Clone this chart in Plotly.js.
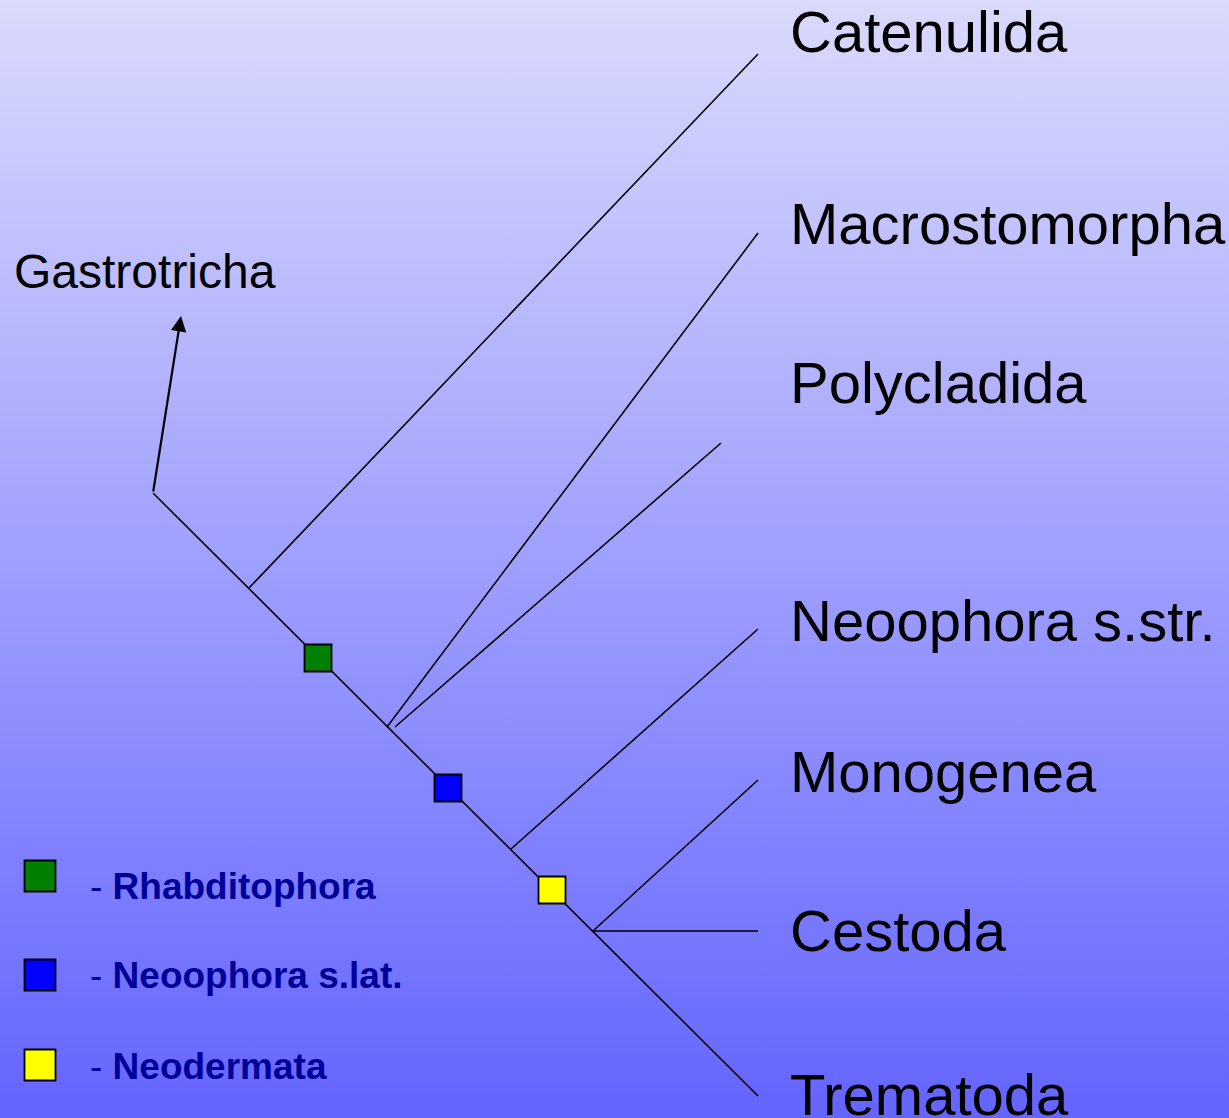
<!DOCTYPE html>
<html>
<head>
<meta charset="utf-8">
<script src="https://cdn.plot.ly/plotly-3.0.1.min.js"></script>
<style>
  html, body { margin: 0; padding: 0; }
  #chart {
    width: 1229px; height: 1118px;
    background: linear-gradient(to bottom, #dadafd 0%, #6464ff 100%);
  }
</style>
</head>
<body>
<div id="chart"></div>
<script>
// ---- Tree data (pixel-space coordinates of the diagram) ----
const rootX = 153, rootY = 493;                 // ingroup root
const outgroupName = 'Gastrotricha';
const outgroupTipX = 181, outgroupTipY = 316;   // arrow tip
const outgroupLabelX = 12, outgroupLabelY = 271;

const taxa   = ['Catenulida', 'Macrostomorpha', 'Polycladida', 'Neoophora s.str.', 'Monogenea', 'Cestoda', 'Trematoda'];
const nodeX  = [249, 387, 395, 511, 593, 593, 153];
const nodeY  = [588, 727, 727, 849, 931, 931, 493];
const tipX   = [758, 758, 721, 758, 758, 758, 758];
const tipY   = [54, 233, 443, 629, 780, 931, 1096];
const labelX = 788;
const labelY = [31, 223, 382, 620, 771, 930, 1094];

const cladeNames  = ['Rhabditophora', 'Neoophora s.lat.', 'Neodermata'];
const cladeColors = ['#008000', '#0000ff', '#ffff00'];
const cladeNodeX  = [318, 448, 552];
const cladeNodeY  = [658, 788, 890];
const legendBoxX  = 40;
const legendBoxY  = [876, 975, 1065];
const legendTextX = 88;
const legendTextY = [886, 975, 1066];

// ---- Build traces ----
const lx = [], ly = [];
for (let i = 0; i < taxa.length; i++) {
  lx.push(nodeX[i], tipX[i], null);
  ly.push(nodeY[i], tipY[i], null);
}
const branches = {
  type: 'scatter', mode: 'lines', x: lx, y: ly,
  line: { color: '#000000', width: 1.6 }, hoverinfo: 'skip', showlegend: false
};
const cladeMarks = {
  type: 'scatter', mode: 'markers', x: cladeNodeX, y: cladeNodeY,
  marker: { symbol: 'square', size: 27, color: cladeColors, line: { color: '#000000', width: 1.8 } },
  hoverinfo: 'skip', showlegend: false
};
const legendMarks = {
  type: 'scatter', mode: 'markers', x: legendBoxY.map(() => legendBoxX), y: legendBoxY,
  marker: { symbol: 'square', size: 31, color: cladeColors, line: { color: '#000000', width: 1.8 } },
  hoverinfo: 'skip', showlegend: false
};

const fontFam = 'Liberation Sans, Arial, sans-serif';
const annotations = [];
taxa.forEach((t, i) => annotations.push({
  x: labelX, y: labelY[i], xref: 'x', yref: 'y', text: t, showarrow: false,
  xanchor: 'left', yanchor: 'middle', font: { family: fontFam, size: 58, color: '#000000' }
}));
annotations.push({
  x: outgroupLabelX, y: outgroupLabelY, xref: 'x', yref: 'y', text: outgroupName, showarrow: false,
  xanchor: 'left', yanchor: 'middle', font: { family: fontFam, size: 48, color: '#000000' }
});
annotations.push({
  x: outgroupTipX, y: outgroupTipY, xref: 'x', yref: 'y',
  ax: rootX, ay: rootY, axref: 'x', ayref: 'y',
  text: '', showarrow: true, arrowhead: 2, arrowsize: 1.4, arrowwidth: 2.2,
  arrowcolor: '#000000', standoff: 0
});
cladeNames.forEach((c, i) => annotations.push({
  x: legendTextX, y: legendTextY[i], xref: 'x', yref: 'y',
  text: '- <b>' + c + '</b>', showarrow: false, xanchor: 'left', yanchor: 'middle',
  font: { family: fontFam, size: 37, color: '#000099' }
}));

const layout = {
  width: 1229, height: 1118,
  margin: { l: 0, r: 0, t: 0, b: 0, pad: 0 },
  paper_bgcolor: 'rgba(0,0,0,0)', plot_bgcolor: 'rgba(0,0,0,0)',
  xaxis: { range: [0, 1229], visible: false, fixedrange: true },
  yaxis: { range: [1118, 0], visible: false, fixedrange: true },
  annotations: annotations,
  showlegend: false
};

Plotly.newPlot('chart', [branches, cladeMarks, legendMarks], layout, { displayModeBar: false, staticPlot: true });
</script>
</body>
</html>
